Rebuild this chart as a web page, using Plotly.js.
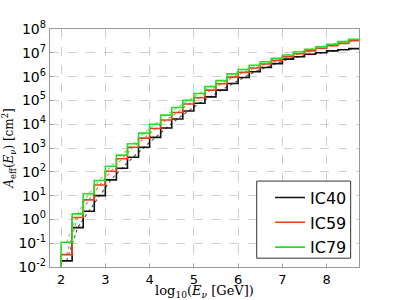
<!DOCTYPE html>
<html>
<head>
<meta charset="utf-8">
<script src="https://cdn.plot.ly/plotly-3.0.1.min.js"></script>
<style>html,body{margin:0;padding:0;background:#fff;}#chart{width:399px;height:300px;}</style>
</head>
<body>
<div id="chart"></div>
<script>
// log10(E / GeV) bin edges
const binEdges = [2.0, 2.25, 2.5, 2.75, 3.0, 3.25, 3.5, 3.75, 4.0, 4.25, 4.5, 4.75, 5.0, 5.25, 5.5, 5.75,
                  6.0, 6.25, 6.5, 6.75, 7.0, 7.25, 7.5, 7.75, 8.0, 8.25, 8.5, 8.75];
const seriesNames = ["IC40", "IC59", "IC79"];
// effective area per bin [cm^2]
const ic40 = [0.018, 0.45, 2.2, 10, 46, 140, 410, 1070, 2800, 6900, 1.65e4, 3.6e4, 7.6e4, 1.4e5, 2.7e5, 5.1e5,
              9.1e5, 1.6e6, 2.4e6, 3.5e6, 5.4e6, 6.8e6, 8.7e6, 1.0e7, 1.2e7, 1.35e7, 1.5e7];
const ic59 = [0.033, 1.2, 6.6, 28, 105, 355, 1070, 2600, 6600, 1.5e4, 3.1e4, 7.1e4, 1.3e5, 2.7e5, 5.0e5, 9.5e5,
              1.5e6, 2.3e6, 3.4e6, 4.8e6, 6.8e6, 9.1e6, 1.2e7, 1.55e7, 2.0e7, 2.5e7, 3.2e7];
const ic79 = [0.11, 1.7, 12, 43, 170, 500, 1500, 4200, 1.0e4, 2.4e4, 5.0e4, 1.0e5, 1.95e5, 3.8e5, 6.8e5, 1.3e6,
              2.0e6, 3.0e6, 4.2e6, 5.9e6, 8.1e6, 1.1e7, 1.4e7, 1.8e7, 2.3e7, 2.95e7, 3.7e7];
const yTickExps = [-2, -1, 0, 1, 2, 3, 4, 5, 6, 7, 8];
const xTickVals = [2, 3, 4, 5, 6, 7, 8];

const colors = ["#111111", "#e8401c", "#22e022"];
const allSeries = [ic40, ic59, ic79];
const floorVal = 1e-4; // below the visible range: step drops off the bottom at the first edge

const centers = binEdges.slice(0, -1).map((e, i) => (e + binEdges[i + 1]) / 2);

const traces = [];
allSeries.forEach((vals, i) => {
  traces.push({
    x: centers, y: vals, mode: "lines", type: "scatter", showlegend: false, hoverinfo: "skip",
    line: {color: colors[i], width: 1.2, dash: "dot"}, opacity: 0.7
  });
});
allSeries.forEach((vals, i) => {
  traces.push({
    x: [binEdges[0]].concat(binEdges),
    y: [floorVal].concat(vals, [vals[vals.length - 1]]),
    mode: "lines", type: "scatter", name: seriesNames[i], legendgroup: seriesNames[i],
    line: {color: colors[i], width: 1.6, shape: "hv"}
  });
});

const layout = {
  width: 399, height: 300,
  margin: {l: 50, r: 40, t: 29, b: 33},
  paper_bgcolor: "#fff", plot_bgcolor: "#fff",
  font: {family: "DejaVu Sans", size: 12, color: "#000"},
  showlegend: true,
  legend: {
    x: 0.712, xanchor: "left", y: 0.363, yanchor: "top",
    borderwidth: 0, bgcolor: "rgba(0,0,0,0)",
    font: {family: "DejaVu Sans", size: 16, color: "#000"},
    itemwidth: 30, tracegroupgap: 1
  },
  shapes: [{
    type: "rect", xref: "paper", yref: "paper",
    x0: 0.669, x1: 0.973, y0: 0.037, y1: 0.361,
    line: {color: "#333", width: 1}, fillcolor: "#fff", layer: "above"
  }],
  xaxis: {
    range: [1.75, 8.73], tickvals: xTickVals, ticktext: xTickVals.map(String),
    showgrid: true, gridcolor: "#cfcfcf", griddash: "dash", gridwidth: 1,
    showline: true, mirror: true, linecolor: "#999", linewidth: 1.2,
    ticks: "inside", ticklen: 3, tickcolor: "#999",
    zeroline: false, tickfont: {size: 13},
    title: {text: "log<sub>10</sub>(<i>E</i><sub><i>ν</i></sub> [GeV])", font: {family: "DejaVu Serif", size: 13}, standoff: 8}
  },
  yaxis: {
    type: "log", range: [-2, 8],
    tickvals: yTickExps.map(e => Math.pow(10, e)),
    ticktext: yTickExps.map(e => "10<sup>" + e + "</sup>"),
    showgrid: true, gridcolor: "#cfcfcf", griddash: "dash", gridwidth: 1,
    showline: true, mirror: true, linecolor: "#999", linewidth: 1.2,
    ticks: "inside", ticklen: 3, tickcolor: "#999",
    zeroline: false, tickfont: {size: 14},
    title: {text: "<i>A</i><sub>eff</sub>(<i>E</i><sub><i>ν</i></sub>) [cm<sup>2</sup>]", font: {family: "DejaVu Serif", size: 12}, standoff: 4}
  }
};

Plotly.newPlot("chart", traces, layout, {displayModeBar: false, staticPlot: true});
</script>
</body>
</html>
